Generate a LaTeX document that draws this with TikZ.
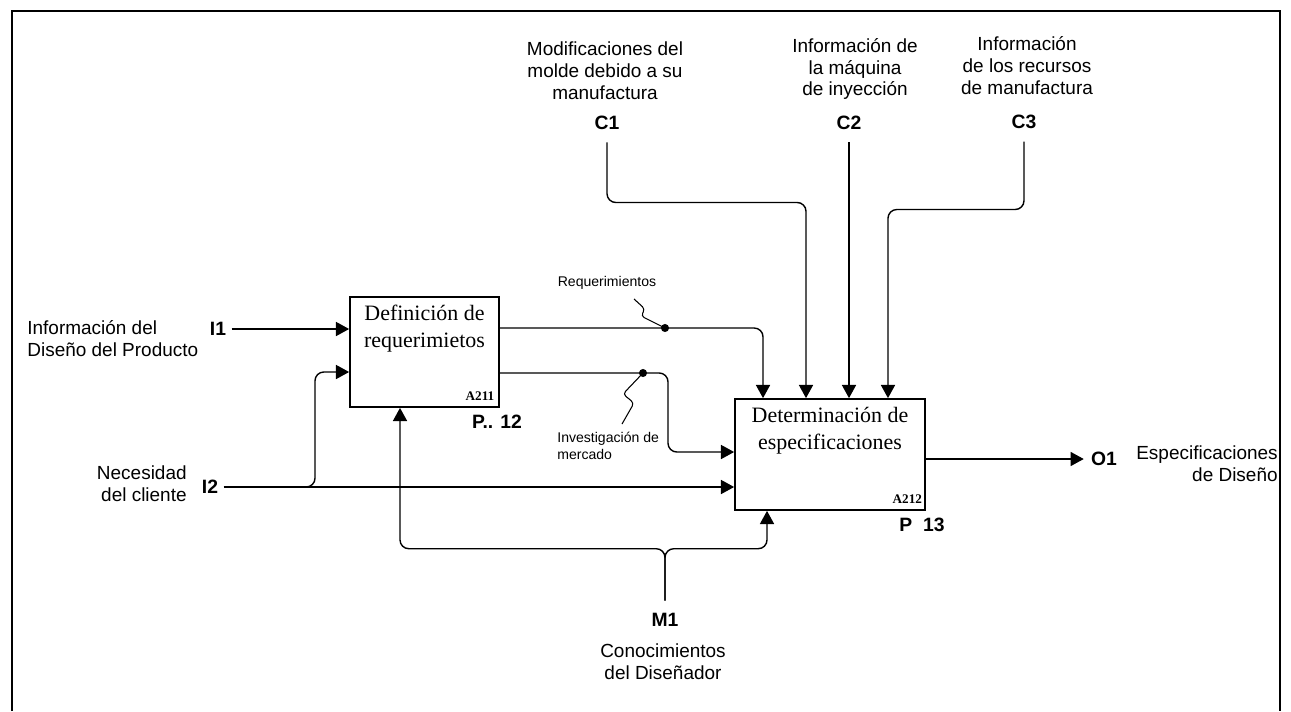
\documentclass[tikz,border=0pt]{standalone}
\usepackage{fontspec}
\setmainfont{Liberation Serif}
\setsansfont{Liberation Sans}
\usetikzlibrary{arrows.meta}

\begin{document}
\begin{tikzpicture}[x=0.02cm, y=-0.02cm,
		flow/.style={line width=0.8pt, rounded corners=5pt, -{Triangle[length=7.5pt,width=8pt]}},
		actbox/.style={draw, line width=1pt, inner sep=0pt},
		boxtitle/.style={font=\fontsize{12.5}{15.3}\selectfont, align=center, inner sep=0pt},
		boxcode/.style={font=\fontsize{7.5}{9}\selectfont\bfseries, inner sep=0pt},
		tag/.style={font=\sffamily\bfseries\fontsize{11}{13}\selectfont, inner sep=0pt},
		info/.style={font=\sffamily\fontsize{10.8}{12.5}\selectfont, inner sep=0pt},
		note/.style={font=\sffamily\fontsize{8}{9.5}\selectfont, inner sep=0pt, align=left},
		squig/.style={line width=0.6pt, rounded corners=2pt}]
		\useasboundingbox (0,0) rectangle (1291,711);
		\draw[line width=1.6pt] (12,711) -- (12,11) -- (1280,11) -- (1280,711); %% sheet frame, open at the bottom

		% activity boxes
		\node[actbox, minimum width=2.98cm, minimum height=2.2cm] (def) at (424.5,352) {};
		\node[boxtitle, anchor=north] (defT) at ([yshift=-5pt]def.north) {Definición de\\requerimietos};
		\node[boxcode, anchor=south east] (defC) at ([xshift=-3pt,yshift=4pt]def.south east) {A211};
		\node[tag] (defP) at (497,422) {P.. 12};
		\node[actbox, minimum width=3.8cm, minimum height=2.22cm] (det) at (830,454.5) {};
		\node[boxtitle, anchor=north] (detT) at ([yshift=-5pt]det.north) {Determinación de\\especificaciones};
		\node[boxcode, anchor=south east] (detC) at ([xshift=-2pt,yshift=4pt]det.south east) {A212};
		\node[tag] (detP) at (922,525) {P\ \ 13};

		% inputs
		\node[info, align=left, anchor=west] (prodInfo) at (27,339) {Información del\\Diseño del Producto};
		\node[tag] (i1) at (218,329) {I1};
		\node[info, align=right, anchor=east] (custNeed) at (187,484) {Necesidad\\del cliente};
		\node[tag] (i2) at (210,487) {I2};
		\draw[flow] ([xshift=3pt]i1.east) -- (i1.east -| def.west); %% I1 into A211
		\draw[flow] ([xshift=3pt]i2.east) -- (i2.east -| det.west); %% I2 into A212
		\draw[flow] (300,487) -- (315,487) |- ([yshift=-0.4cm]def.west); %% I2 branch into A211

		% controls
		\node[info, align=center] (moldMod) at (605,71) {Modificaciones del\\molde debido a su\\manufactura};
		\node[tag] (c1) at (607,123) {C1};
		\node[info, align=center] (machInfo) at (855,69) {Información de\\la máquina\\de inyección};
		\node[tag] (c2) at (849,123) {C2};
		\node[info, align=center] (resInfo) at (1027,66) {Información\\de los recursos\\de manufactura};
		\node[tag] (c3) at (1024,122) {C3};
		\draw[flow] ([yshift=-7pt]c1.south) -- ++(0,60) -| ([xshift=-0.48cm]det.north); %% C1
		\draw[flow] ([yshift=-7pt]c2.south) -- (c2.south |- det.north); %% C2
		\draw[flow] ([yshift=-7pt]c3.south) -- ++(0,68) -| ([xshift=1.16cm]det.north); %% C3

		% A211 outputs feeding A212
		\draw[flow] ([yshift=0.48cm]def.east) -| ([xshift=-1.34cm]det.north); %% requerimientos
		\draw[flow] ([yshift=-0.42cm]def.east) -| (668,452) -- ([yshift=0.05cm]det.west); %% investigacion de mercado
		\node[note] (req) at (607,283) {Requerimientos};
		\coordinate (reqDot) at (665,328);
		\fill (reqDot) circle (2.3pt);
		\draw[squig] (634,299) -- (645,309) -- (641,316) -- (reqDot);
		\node[note, anchor=west] (mkt) at (557,446) {Investigación de\\mercado};
		\coordinate (mktDot) at (643,373);
		\fill (mktDot) circle (2.3pt);
		\draw[squig] (mktDot) -- (623,394) -- (634,403) -- (622,424);

		% mechanism
		\node[tag] (m1) at (665,620) {M1};
		\node[info, align=center] (designer) at (663,662) {Conocimientos\\del Diseñador};
		\draw[flow] ([yshift=7pt]m1.north) -- ++(0,-52) -| ([xshift=-0.49cm]def.south); %% M1 to A211
		\draw[flow] ([yshift=7pt]m1.north) -- ++(0,-52) -| ([xshift=-1.26cm]det.south); %% M1 to A212

		% output
		\node[tag] (o1) at (1104,459) {O1};
		\node[info, align=right, anchor=east] (specs) at (1278,463.5) {Especificaciones\\de Diseño};
		\draw[flow] (det.east |- o1) -- ([xshift=-4pt]o1.west); %% O1
	\end{tikzpicture}
\end{document}
